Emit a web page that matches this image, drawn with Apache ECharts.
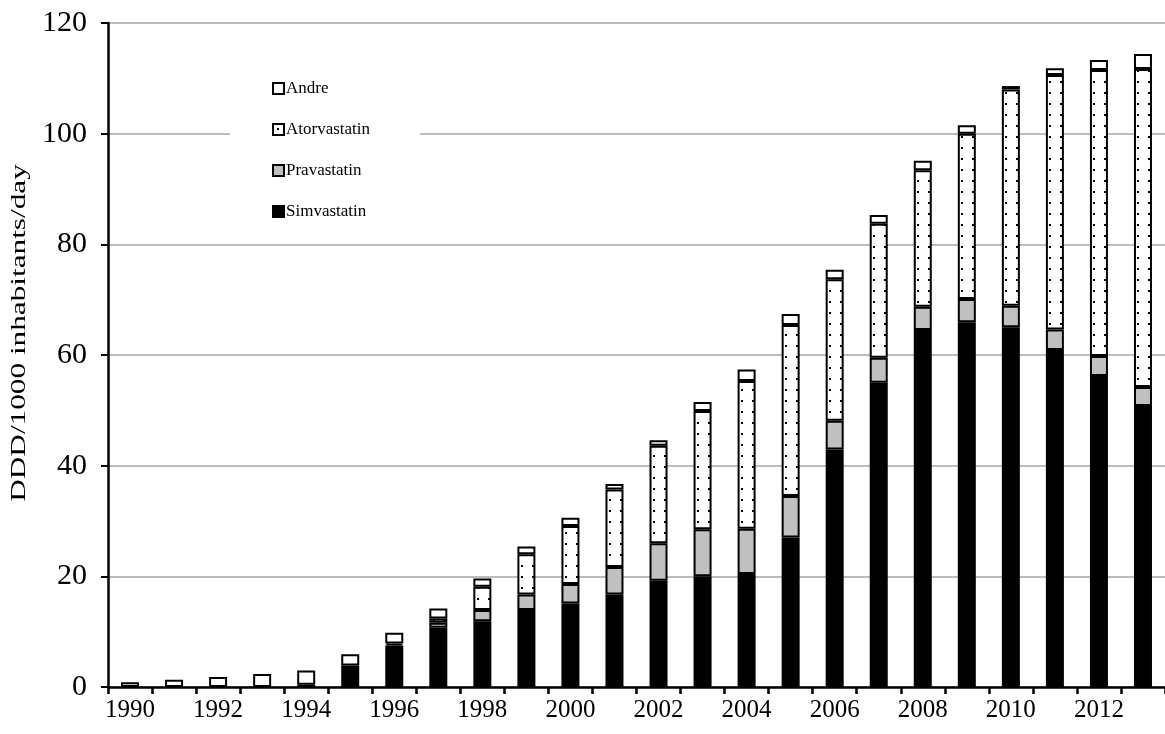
<!DOCTYPE html>
<html>
<head>
<meta charset="utf-8">
<script src="https://cdn.jsdelivr.net/npm/echarts@6/dist/echarts.min.js"></script>
<style>
html,body{margin:0;padding:0;background:#fff;}
#chart{width:1165px;height:734px;}
</style>
</head>
<body>
<div id="chart"></div>
<script>
const years = ['1990','1991','1992','1993','1994','1995','1996','1997','1998','1999','2000','2001','2002','2003','2004','2005','2006','2007','2008','2009','2010','2011','2012','2013'];
const simvastatin = [0,0,0,0,0.4,3.9,7.5,10.7,11.9,13.9,15.1,16.7,19.2,20.0,20.4,27.0,42.9,55.0,64.5,65.9,65.0,60.9,56.2,50.8];
const pravastatin = [0,0,0,0,0,0,0.35,0.9,2.0,2.8,3.5,5.0,6.8,8.5,8.2,7.5,5.2,4.5,4.2,4.2,3.9,3.7,3.6,3.4];
const atorvastatin = [0,0,0,0,0,0,0,0.8,4.2,7.3,10.5,14.0,17.6,21.4,26.7,30.9,25.6,24.2,24.7,29.9,39.1,46.0,51.7,57.5];
const andre = [0.85,1.3,1.8,2.35,2.6,2.0,1.95,1.8,1.5,1.4,1.5,1.0,1.0,1.6,2.1,2.0,1.7,1.6,1.7,1.5,0.6,1.2,1.8,2.7];
const yTicks = {min: 0, max: 120, interval: 20};
const yTitle = 'DDD/1000 inhabitants/day';

// dotted pattern for Atorvastatin
const pc = document.createElement('canvas');
pc.width = 11; pc.height = 11;
const pctx = pc.getContext('2d');
pctx.fillStyle = '#fff'; pctx.fillRect(0,0,11,11);
pctx.fillStyle = '#000'; pctx.fillRect(4,4,2,2);
const dotted = {image: pc, repeat: 'repeat'};

const FONT = '"Liberation Serif", "Times New Roman", serif';
const toData = arr => arr.map(v => v === 0 ? '-' : v);

function mk(name, data, fill) {
  return {
    name: name, type: 'bar', stack: 'total', data: toData(data),
    barWidth: 18,
    itemStyle: {color: fill, borderColor: '#000', borderWidth: 2},
    emphasis: {disabled: true}
  };
}

const chart = echarts.init(document.getElementById('chart'), null, {renderer: 'canvas'});
chart.setOption({
  animation: false,
  backgroundColor: '#fff',
  grid: {left: 108, right: -8, top: 23, bottom: 47, containLabel: false},
  legend: {
    orient: 'vertical', left: 230, top: 65,
    padding: [15, 50, 15, 42],
    backgroundColor: '#fff',
    itemWidth: 11, itemHeight: 11, itemGap: 24,
    icon: 'rect',
    itemStyle: {borderColor: '#000', borderWidth: 2},
    textStyle: {fontFamily: FONT, fontSize: 17, color: '#000', lineHeight: 17, padding: [0,0,0,-3]},
    data: ['Andre', 'Atorvastatin', 'Pravastatin', 'Simvastatin']
  },
  graphic: [{
    type: 'text', x: 19, y: 333, rotation: Math.PI / 2, scaleX: 1.42,
    style: {text: yTitle, font: '22px "Liberation Serif", serif', fill: '#000', align: 'center', verticalAlign: 'middle'}
  }],
  xAxis: {
    type: 'category', data: years,
    axisLine: {lineStyle: {color: '#000', width: 2.5}},
    axisTick: {show: true, interval: 0, length: 7, lineStyle: {color: '#000', width: 2.5}},
    axisLabel: {interval: 1, margin: 11, fontFamily: FONT, fontSize: 25, color: '#000'},
    splitLine: {show: false}
  },
  yAxis: {
    type: 'value', min: yTicks.min, max: yTicks.max, interval: yTicks.interval,
    axisLine: {show: true, lineStyle: {color: '#000', width: 2.5}},
    axisTick: {show: true, length: 7, lineStyle: {color: '#000', width: 2}},
    axisLabel: {margin: 21, fontFamily: FONT, fontSize: 30, color: '#000'},
    splitLine: {lineStyle: {color: '#a6a6a6', width: 1.5}}
  },
  series: [
    mk('Simvastatin', simvastatin, '#000'),
    mk('Pravastatin', pravastatin, '#c0c0c0'),
    mk('Atorvastatin', atorvastatin, dotted),
    mk('Andre', andre, '#fff')
  ]
});
</script>
</body>
</html>
